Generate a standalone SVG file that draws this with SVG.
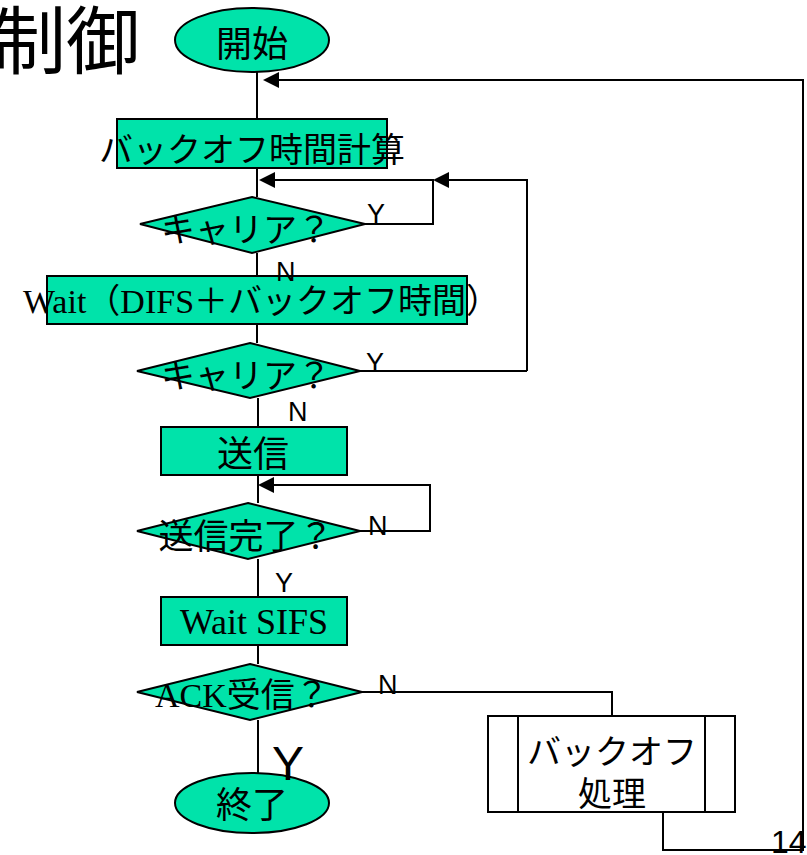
<svg xmlns="http://www.w3.org/2000/svg" width="807" height="855" viewBox="0 0 807 855">
<style>
.sh{fill:#00e3aa;stroke:#000;stroke-width:2}
.wb{fill:#fff;stroke:#000;stroke-width:2}
.ln{fill:none;stroke:#000;stroke-width:2}
.jp{font-family:"Noto Sans CJK JP","Liberation Sans",sans-serif;fill:#000}
.mx{font-family:"Liberation Serif","Noto Sans CJK JP",serif;fill:#000}
.lb{font-family:"Liberation Sans",Arial,sans-serif;fill:#000}
.ah{fill:#000}
</style>
<rect width="807" height="855" fill="#fff"/>
<text class="jp" x="-8" y="68" font-size="74">制御</text>

<g id="connectors">
<path class="ln" d="M257,72 V119"/>
<path class="ln" d="M257,168 V197"/>
<path class="ln" d="M663,812 V850 H803 V80 H276"/>
<polygon class="ah" points="263,80 279,72 279,88"/>
<path class="ln" d="M527,371 V180 H446"/>
<polygon class="ah" points="433,180 449,172 449,188"/>
<path class="ln" d="M365,224 H433 V180 H272"/>
<polygon class="ah" points="259,180 275,172 275,188"/>
<path class="ln" d="M257,253 V276"/>
<path class="ln" d="M257,324 V343"/>
<path class="ln" d="M360,371 H527"/>
<path class="ln" d="M258,398 V427"/>
<path class="ln" d="M258,475 V503"/>
<path class="ln" d="M360,531 H430 V485 H271"/>
<polygon class="ah" points="258,485 274,477 274,493"/>
<path class="ln" d="M258,559 V597"/>
<path class="ln" d="M258,645 V664"/>
<path class="ln" d="M258,720 V773"/>
<path class="ln" d="M362,692 H612 V716"/>
</g>

<g id="start">
<ellipse class="sh" cx="252" cy="40" rx="77" ry="32"/>
<text class="jp" x="252" y="57" font-size="36" text-anchor="middle">開始</text>
</g>

<g id="calc">
<rect class="sh" x="117" y="119" width="270" height="49"/>
<text class="jp" x="252" y="162" font-size="34" text-anchor="middle">バックオフ時間計算</text>
</g>

<g id="carrier1">
<polygon class="sh" points="252,197 365,224 252,253 140,224"/>
<text class="jp" x="246" y="242" font-size="34" text-anchor="middle">キャリア？</text>
</g>

<g id="wait">
<rect class="sh" x="47" y="276" width="420" height="48"/>
<text class="mx" x="23" y="313" font-size="34">Wait（DIFS＋バックオフ時間）</text>
</g>

<g id="carrier2">
<polygon class="sh" points="250,343 360,371 250,398 137,371"/>
<text class="jp" x="246" y="388" font-size="34" text-anchor="middle">キャリア？</text>
</g>

<g id="send">
<rect class="sh" x="161" y="427" width="186" height="48"/>
<text class="jp" x="253" y="467" font-size="36" text-anchor="middle">送信</text>
</g>

<g id="sendDone">
<polygon class="sh" points="248,503 360,531 248,559 137,531"/>
<text class="jp" x="246" y="549" font-size="35" text-anchor="middle">送信完了？</text>
</g>

<g id="sifs">
<rect class="sh" x="161" y="597" width="186" height="48"/>
<text class="mx" x="254" y="634" font-size="36" text-anchor="middle">Wait SIFS</text>
</g>

<g id="ack">
<polygon class="sh" points="250,664 362,692 250,720 137,692"/>
<text class="mx" x="155" y="707" font-size="34">ACK受信？</text>
</g>

<g id="end">
<ellipse class="sh" cx="252" cy="803" rx="77" ry="30"/>
<text class="jp" x="252" y="818" font-size="36" text-anchor="middle">終了</text>
</g>

<g id="backoff">
<rect class="wb" x="488" y="716" width="247" height="96"/>
<path class="ln" d="M518,716 V812 M705,716 V812"/>
<text class="jp" x="612" y="764" font-size="34" text-anchor="middle">バックオフ</text>
<text class="jp" x="612" y="806" font-size="34" text-anchor="middle">処理</text>
</g>

<g id="labels">
<text class="lb" x="367" y="223" font-size="27">Y</text>
<text class="lb" x="276" y="281" font-size="27">N</text>
<text class="lb" x="366" y="372" font-size="27">Y</text>
<text class="lb" x="288" y="421" font-size="27">N</text>
<text class="lb" x="368" y="535" font-size="27">N</text>
<text class="lb" x="275" y="592" font-size="27">Y</text>
<text class="lb" x="378" y="694" font-size="27">N</text>
<text class="lb" x="272" y="780" font-size="48">Y</text>
<text class="lb" x="771" y="853" font-size="32">14</text>
</g>
</svg>
